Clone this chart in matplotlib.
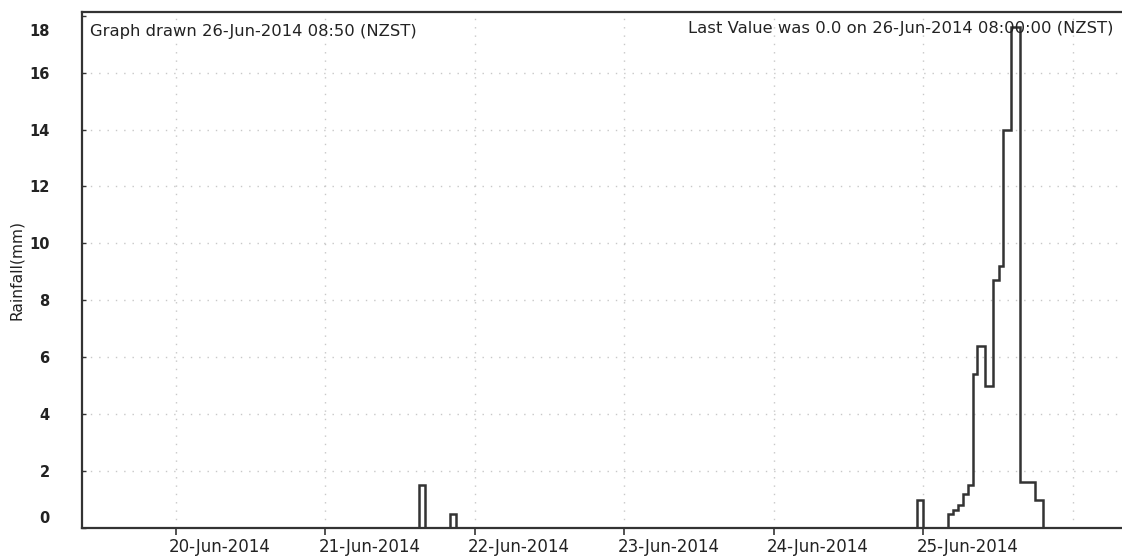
import numpy as np
import pandas as pd
import matplotlib
matplotlib.use("Agg")
import matplotlib.pyplot as plt
import matplotlib.dates as mdates
import matplotlib.transforms as mtransforms

# isolated hourly totals (start, end, mm)
bar_start = ["2014-06-21 15:00", "2014-06-21 20:00", "2014-06-24 23:00"]
bar_end = ["2014-06-21 16:00", "2014-06-21 21:00", "2014-06-25 00:00"]
bar_value = [1.5, 0.5, 1.0]

# main storm on 25-Jun: step edges and values between them
storm_edges = ["2014-06-25 03:55", "2014-06-25 04:40", "2014-06-25 05:35",
               "2014-06-25 06:20", "2014-06-25 07:10", "2014-06-25 07:55",
               "2014-06-25 08:40", "2014-06-25 09:55", "2014-06-25 11:05",
               "2014-06-25 12:10", "2014-06-25 12:50", "2014-06-25 14:00",
               "2014-06-25 15:30", "2014-06-25 17:55", "2014-06-25 19:15"]
storm_values = [0.5, 0.65, 0.8, 1.2, 1.5, 5.4, 6.4, 5.0, 8.7, 9.2, 14.0,
                17.6, 1.6, 1.0]

day_ticks = ["2014-06-20", "2014-06-21", "2014-06-22", "2014-06-23",
             "2014-06-24", "2014-06-25"]
day_labels = ["20-Jun-2014", "21-Jun-2014", "22-Jun-2014", "23-Jun-2014",
              "24-Jun-2014", "25-Jun-2014"]
grid_days = day_ticks + ["2014-06-26"]
y_ticks = [0, 2, 4, 6, 8, 10, 12, 14, 16, 18]

x_start = "2014-06-19 08:50"
x_end = "2014-06-26 08:50"


def num(s):
    return mdates.date2num(pd.Timestamp(s).to_pydatetime())


# one continuous step series, zero between the separate events
edges = []
values = []
for s, e, v in zip(bar_start, bar_end, bar_value):
    edges += [num(s), num(e)]
    values += [v, 0.0]
edges += [num(t) for t in storm_edges]
values += storm_values
edges = np.array(edges)
values = np.array(values)

plt.rcParams["font.family"] = ["DejaVu Sans"]
fig = plt.figure(figsize=(11.22, 5.59), dpi=100)
ax = fig.add_axes([81.5 / 1122, 31 / 559, 7 * 149.5 / 1122, 516 / 559])

ink = "#333333"
txt = "#222222"
fs = 11.8
ax.stairs(values, edges, baseline=0, color=ink, lw=1.8)

ax.set_xlim(num(x_start), num(x_end))
ax.set_ylim(0, 18.13)

for d in grid_days:
    ax.axvline(num(d), color="#c8c8c8", lw=1.0, ls=(0, (1, 5)), zorder=0)
for v in y_ticks[1:-1]:
    ax.axhline(v, color="#c8c8c8", lw=1.0, ls=(0, (1, 5)), zorder=0)

ax.set_xticks([num(d) for d in day_ticks])
ax.set_xticklabels(day_labels, fontsize=12, color=txt, ha="left")
ax.tick_params(axis="x", direction="out", length=5, width=1.2, color=ink, pad=2)
shift_x = mtransforms.ScaledTranslation(-7 / 100, 0, fig.dpi_scale_trans)
for lab in ax.get_xticklabels():
    lab.set_transform(lab.get_transform() + shift_x)

ax.set_yticks(y_ticks)
ax.set_yticklabels([str(v) for v in y_ticks], fontsize=10.5, color=txt,
                   fontweight="bold")
ax.tick_params(axis="y", direction="in", length=3, width=1.0, color=ink, pad=23)
ylabs = ax.get_yticklabels()
ylabs[0].set_transform(ylabs[0].get_transform()
                       + mtransforms.ScaledTranslation(0, 11 / 100, fig.dpi_scale_trans))
ylabs[-1].set_transform(ylabs[-1].get_transform()
                        + mtransforms.ScaledTranslation(0, -14 / 100, fig.dpi_scale_trans))

ax.set_ylabel("Rainfall(mm)", fontsize=11.2, color=txt)
ax.yaxis.set_label_coords(-0.055, 0.5)

for side in ["left", "bottom", "top"]:
    ax.spines[side].set_color(ink)
    ax.spines[side].set_linewidth(1.6)
ax.spines["right"].set_visible(False)

ax.text(8.5 / 1047, 0.962, "Graph drawn 26-Jun-2014 08:50 (NZST)",
        transform=ax.transAxes, fontsize=fs, color=txt, va="center")
fig.text(1113 / 1122, 1 - 28 / 559,
         "Last Value was 0.0 on 26-Jun-2014 08:00:00 (NZST)",
         fontsize=fs, color=txt, ha="right", va="center")

fig.savefig("out.png", dpi=100)
